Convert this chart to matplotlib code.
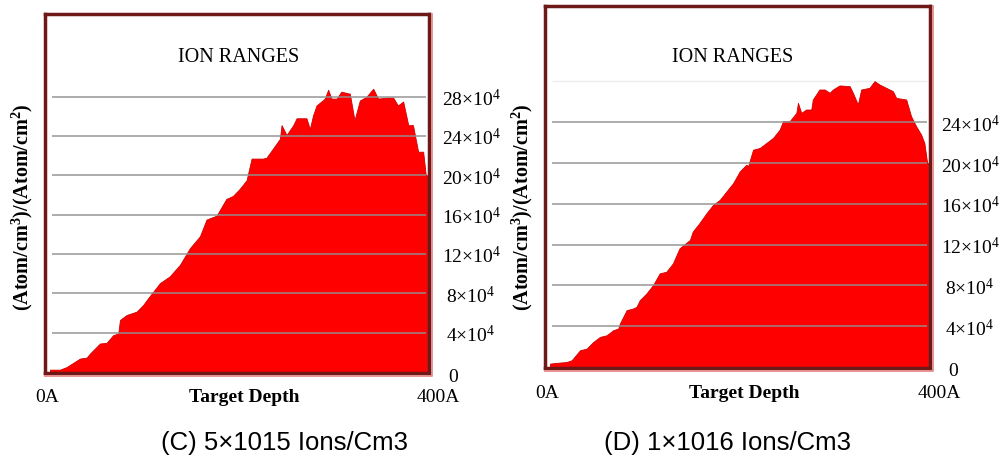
import matplotlib
matplotlib.use("Agg")
import matplotlib.pyplot as plt
from matplotlib.lines import Line2D

W, H = 1005, 459

# ---- data (depth in Angstrom, concentration in units of 1e4) ----
depth_c = [0, 10.6, 17.7, 31.8, 38.9, 42.4, 53, 60, 67, 72.4, 74.2, 81.3, 91.9, 98.9, 104,
           116.6, 127, 137.8, 148.4, 159, 166, 176.7, 187, 194, 201, 208.5, 213.8, 226,
           229.7, 243.8, 245.6, 250.9, 258, 261.5, 272, 275.6, 279, 282.7, 291.5, 295,
           298.6, 304, 309, 318, 323, 328.6, 335.7, 342.8, 348, 357, 364, 369, 374.6,
           380, 385, 387, 390.5, 395.8, 398.6, 400]
conc_c = [0.24, 0.24, 0.51, 1.37, 1.47, 1.88, 2.90, 2.97, 3.75, 3.92, 5.29, 5.80, 6.14, 6.83, 7.5,
          9.04, 9.73, 10.9, 12.6, 13.8, 15.5, 15.9, 17.6, 17.9, 18.6, 19.5, 21.7, 21.7,
          21.8, 23.7, 25.1, 24.1, 25.1, 25.8, 25.8, 24.7, 26.1, 27.1, 27.8, 28.7,
          27.8, 27.8, 28.5, 28.3, 25.6, 27.6, 28.0, 28.8, 27.8, 27.9, 27.9, 27.1, 27.5,
          25.1, 25.1, 24.1, 22.4, 22.4, 20.0, 20.0]

depth_d = [0, 5.3, 17.6, 22.9, 31.7, 38.7, 45.8, 52.8, 59.9, 66.9, 72.2, 73.9, 81, 88, 91.5,
           95, 102, 109, 116, 123, 130, 137, 148, 151, 158, 165.5, 172.5, 179.6, 186.6,
           193.7, 200.7, 207.7, 209.5, 214.8, 221.8, 228.9, 235.9, 243, 246.5, 253.5,
           260.6, 262.3, 265.8, 271, 276.4, 278, 285, 290.5, 295.8, 299.3, 306.3, 317,
           320.4, 325.7, 329.2, 338, 343.3, 348.6, 355.6, 362.7, 366.2, 376.8, 382,
           387.3, 392.6, 396, 399, 400]
conc_d = [0.33, 0.39, 0.49, 0.66, 1.64, 1.80, 2.46, 2.95, 3.11, 3.61, 3.77, 4.26, 5.57, 5.74, 5.9,
          6.56, 7.21, 8.03, 9.18, 9.34, 10.16, 11.64, 12.46, 13.28, 14.1, 15.08, 15.9, 16.39,
          17.21, 18.03, 19.18, 19.84, 19.67, 21.31, 21.48, 21.97, 22.46, 23.28, 24.1, 24.1,
          24.92, 25.9, 24.92, 25.25, 25.25, 26.23, 27.21, 27.21, 26.89, 27.21, 27.61, 27.54,
          26.89, 25.74, 27.21, 27.38, 28.03, 27.7, 27.38, 27.05, 26.39, 26.23, 24.59,
          23.61, 22.79, 21.97, 20.0, 20.0]

ticks_c = [0, 4, 8, 12, 16, 20, 24, 28]
ticks_d = [0, 4, 8, 12, 16, 20, 24]
title_text = "ION RANGES"
ylabel_text = r"(Atom/cm$^\mathbf{3}$)/(Atom/cm$^\mathbf{2}$)"
xlabel_text = "Target Depth"
caption_c = "(C) 5×1015 Ions/Cm3"
caption_d = "(D) 1×1016 Ions/Cm3"

plt.rcParams['mathtext.fontset'] = 'custom'
plt.rcParams['mathtext.rm'] = 'Liberation Serif'
plt.rcParams['mathtext.bf'] = 'Liberation Serif:bold'
plt.rcParams['mathtext.it'] = 'Liberation Serif:italic'

fig = plt.figure(figsize=(W / 100, H / 100), dpi=100)
fig.patch.set_facecolor('white')

SERIF = 'Liberation Serif'
SANS = 'Liberation Sans'
DARK = '#6e1818'
PINK = '#e58a8a'


def fx(px):
    return px / W


def fy(py):
    return 1 - py / H


def panel(x0, x1, ytop, ybot, ymax, depth, conc, ticks, faint, lab_x, zero_x,
          ylab_x, title_x, xlab_y, cap_x, cap_text):
    ax = fig.add_axes([fx(x0), fy(ybot), fx(x1) - fx(x0), fy(ytop) - fy(ybot)])
    ax.set_xlim(-5.3, 402)
    ax.set_ylim(-0.1, ymax)
    ax.fill_between(depth, 0, conc, color='#ff0000', lw=0.6, edgecolor='#d00000', zorder=2)
    gl = [t for t in ticks if t > 0]
    ax.hlines(gl, 2, 399, color='#909090', lw=1.3, alpha=0.8, zorder=3)
    if faint:
        ax.hlines(faint, 2, 399, color='#ececec', lw=1.0, zorder=1)
    ax.set_xticks([100, 200, 300])
    ax.tick_params(axis='x', direction='in', length=3, color='#d9c27a', labelbottom=False)
    ax.set_yticks([])
    for s in ax.spines.values():
        s.set_color(DARK)
        s.set_linewidth(2.5)
    # outer pink frame on right and bottom
    fig.lines.append(Line2D([fx(x1 + 3), fx(x1 + 3), fx(x0)],
                            [fy(ytop), fy(ybot + 3), fy(ybot + 3)],
                            transform=fig.transFigure, color=PINK, lw=1.3))
    # tick labels on right side
    for t in ticks:
        yp = ax.transData.transform((0, t))[1]
        ypix = H - yp
        if t == 0:
            fig.text(fx(zero_x), fy(ypix + 5), "0", ha='center', va='center',
                     family=SERIF, fontsize=14)
        else:
            fig.text(fx(lab_x), fy(ypix + 3), r"%d$\times$10$^{4}$" % t, ha='center',
                     va='center', family=SERIF, fontsize=14)
    fig.text(fx(title_x), fy(58), title_text, ha='center', va='center', family=SERIF,
             fontsize=14.5)
    fig.text(fx(ylab_x), fy(207), ylabel_text, rotation=90, ha='center', va='center',
             family=SERIF, fontweight='bold', fontsize=14.5)
    fig.text(fx(x0 + 2), fy(xlab_y), "0A", ha='center', va='center', family=SERIF, fontsize=14)
    fig.text(fx((x0 + x1) / 2 + 7), fy(xlab_y), xlabel_text, ha='center', va='center',
             family=SERIF, fontweight='bold', fontsize=14)
    fig.text(fx(x1 + 9), fy(xlab_y), "400A", ha='center', va='center', family=SERIF,
             fontsize=14)
    fig.text(fx(cap_x), fy(443), cap_text, ha='center', va='center', family=SANS,
             fontsize=18.5)
    return ax


panel(45, 429, 14, 373, 36.4, depth_c, conc_c, ticks_c, None, 471, 453, 22, 239, 397,
      284, caption_c)
panel(545, 930, 6, 368, 35.4, depth_d, conc_d, ticks_d, [28], 970, 953, 522, 733, 394,
      727, caption_d)

fig.savefig("out.png", dpi=100, facecolor='white')
